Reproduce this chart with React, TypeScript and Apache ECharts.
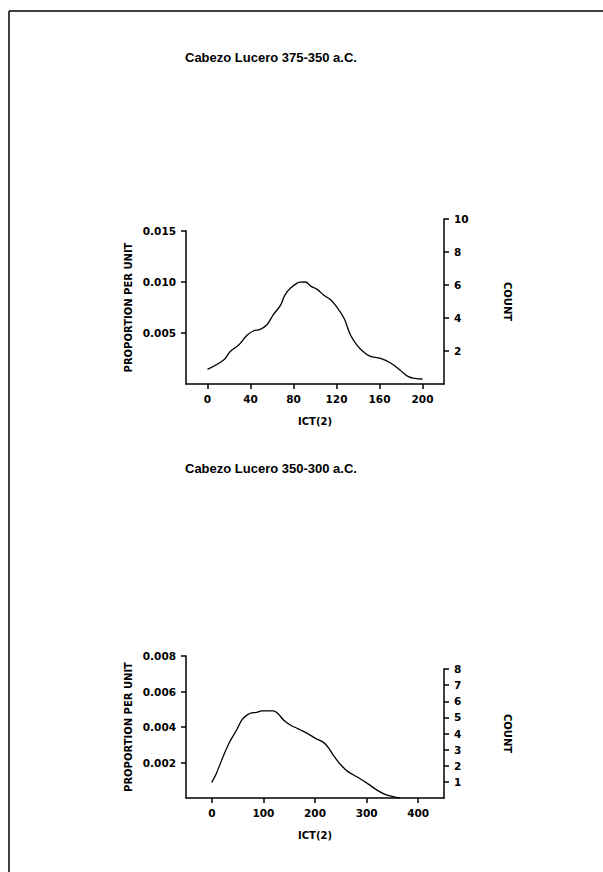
import React, { useEffect, useRef } from "react";
import * as echarts from "echarts";

// Kernel density of ICT(2) — Cabezo Lucero, 375-350 a.C.
const ict1 = [0, 15, 21, 29, 37, 43, 49, 55, 61, 68, 72, 77, 83, 86, 91, 96, 102, 108, 114, 120, 127, 133, 139, 145, 151, 161, 170, 179, 187, 193, 200];
const prop1 = [0.00144, 0.00235, 0.00317, 0.00382, 0.0048, 0.00522, 0.00536, 0.00578, 0.00676, 0.00774, 0.00872, 0.00938, 0.00987, 0.00998, 0.01, 0.0096, 0.00928, 0.00872, 0.0083, 0.00758, 0.00644, 0.0048, 0.00382, 0.00317, 0.00274, 0.00252, 0.00209, 0.00137, 0.00072, 0.00056, 0.00049];
const xTicks1 = [0, 40, 80, 120, 160, 200];

// Kernel density of ICT(2) — Cabezo Lucero, 350-300 a.C.
const ict2 = [0, 9, 22, 35, 48, 58, 68, 77, 87, 97, 107, 120, 129, 139, 152, 165, 172, 185, 201, 217, 227, 237, 250, 263, 282, 302, 321, 337, 357, 365];
const prop2 = [0.00088, 0.0014, 0.00234, 0.00318, 0.00383, 0.00439, 0.00467, 0.0048, 0.00482, 0.00491, 0.00491, 0.00491, 0.00473, 0.00439, 0.00411, 0.00393, 0.00383, 0.00364, 0.00336, 0.00312, 0.0028, 0.00234, 0.00187, 0.0015, 0.00118, 0.00081, 0.00043, 0.00019, 0.00004, 0];
const xTicks2 = [0, 100, 200, 300, 400];

const titles = ["Cabezo Lucero 375-350 a.C.", "Cabezo Lucero 350-300 a.C."];

const FONT = "DejaVu Sans";
const INK = "#000";

const zip = (xs: number[], ys: number[]) => xs.map((x, i) => [x, ys[i]]);

const labelStyle = {
  color: INK,
  fontFamily: FONT,
  fontWeight: "bold" as const,
  fontSize: 10.5,
};

const axisLine = { show: true, onZero: false, lineStyle: { color: INK, width: 1.5 } };
const axisTick = { show: true, length: 5, lineStyle: { color: INK, width: 1.5 } };

function propAxis(gridIndex: number, max: number, interval: number) {
  return {
    type: "value",
    gridIndex,
    position: "left",
    min: 0,
    max,
    interval,
    name: "PROPORTION PER UNIT",
    nameLocation: "middle",
    nameRotate: 90,
    nameGap: 53,
    nameTextStyle: { ...labelStyle, fontSize: 10 },
    axisLine,
    axisTick,
    splitLine: { show: false },
    axisLabel: {
      ...labelStyle,
      margin: 10,
      showMinLabel: false,
      formatter: (v: number) => v.toFixed(3),
    },
  };
}

function countAxis(gridIndex: number, max: number, interval: number) {
  return {
    type: "value",
    gridIndex,
    position: "right",
    min: 0,
    max,
    interval,
    name: "COUNT",
    nameLocation: "middle",
    nameRotate: -90,
    nameGap: 58,
    nameTextStyle: { ...labelStyle, fontSize: 10 },
    axisLine,
    axisTick,
    splitLine: { show: false },
    axisLabel: { ...labelStyle, margin: 10, showMinLabel: false },
  };
}

function ictAxis(gridIndex: number, min: number, max: number, ticks: number[]) {
  return {
    type: "value",
    gridIndex,
    position: "bottom",
    min,
    max,
    name: "ICT(2)",
    nameLocation: "middle",
    nameGap: 32,
    nameTextStyle: { ...labelStyle, fontSize: 10 },
    axisLine,
    axisTick: { ...axisTick, customValues: ticks },
    splitLine: { show: false },
    axisLabel: { ...labelStyle, margin: 9, customValues: ticks },
  };
}

function hiddenAxis(gridIndex: number, min: number, max: number) {
  return { type: "value", gridIndex, min, max, show: false };
}

const option = {
  animation: false,
  backgroundColor: "#fff",
  title: titles.map((text, i) => ({
    text,
    left: 185,
    top: i === 0 ? 51 : 462,
    padding: 0,
    textStyle: { color: INK, fontFamily: "Liberation Sans", fontWeight: "bold", fontSize: 13 },
  })),
  grid: [
    { left: 186, right: 159, top: 231, bottom: 488 },
    { left: 186, right: 159, top: 219, bottom: 488 },
    { left: 186, right: 159, top: 656, bottom: 74 },
    { left: 186, right: 159, top: 669, bottom: 74 },
  ],
  xAxis: [
    ictAxis(0, -20, 220, xTicks1),
    hiddenAxis(1, -20, 220),
    ictAxis(2, -50, 450, xTicks2),
    hiddenAxis(3, -50, 450),
  ],
  yAxis: [
    propAxis(0, 0.015, 0.005),
    countAxis(1, 10, 2),
    propAxis(2, 0.008, 0.002),
    countAxis(3, 8, 1),
  ],
  series: [
    {
      type: "line",
      xAxisIndex: 0,
      yAxisIndex: 0,
      data: zip(ict1, prop1),
      smooth: 0.4,
      showSymbol: false,
      lineStyle: { color: INK, width: 1.3 },
    },
    {
      type: "line",
      xAxisIndex: 2,
      yAxisIndex: 2,
      data: zip(ict2, prop2),
      smooth: 0.3,
      showSymbol: false,
      lineStyle: { color: INK, width: 1.3 },
    },
  ],
  graphic: [
    { type: "line", shape: { x1: 9, y1: 11, x2: 603, y2: 11 }, style: { stroke: INK, lineWidth: 1.5 } },
    { type: "line", shape: { x1: 9, y1: 11, x2: 9, y2: 872 }, style: { stroke: INK, lineWidth: 1.5 } },
  ],
};

export default function App() {
  const ref = useRef<HTMLDivElement>(null);
  useEffect(() => {
    const chart = echarts.init(ref.current!, null, { renderer: "svg" });
    chart.setOption(option as any);
    return () => chart.dispose();
  }, []);
  return (
    <div
      ref={ref}
      style={{ position: "absolute", left: 0, top: 0, width: 603, height: 872, background: "#fff" }}
    />
  );
}
